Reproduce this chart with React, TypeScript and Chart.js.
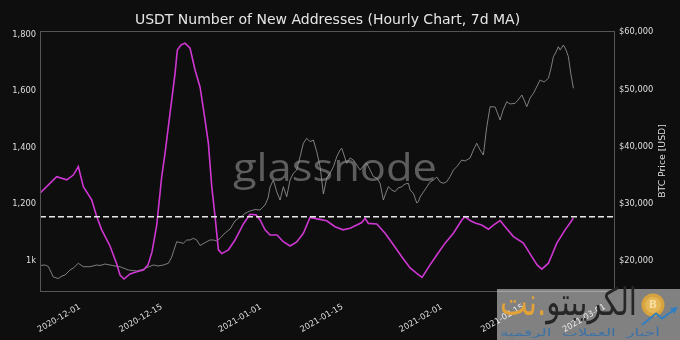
import { useEffect, useRef } from 'react';
import { Chart, registerables } from 'chart.js';

Chart.register(...registerables);

// ---- data (days since 2020-12-01) ----
const usdtDays = [-6.86,-4.0,-2.28,-1.15,-0.29,0.57,2.0,2.86,3.72,5.14,6.29,6.86,7.54,8.57,9.72,10.85,11.66,12.34,13.15,14.0,14.57,15.43,16.29,16.68,17.32,18.0,18.86,19.72,20.57,21.43,22.0,22.58,23.15,23.72,24.3,25.43,26.57,28.0,29.15,30.17,30.86,31.72,32.57,33.77,34.85,36.0,37.15,38.28,39.43,40.85,42.29,43.71,45.09,46.29,47.44,48.29,48.86,49.43,50.87,52.29,53.71,55.15,56.58,57.72,58.63,60.0,61.15,62.57,64.0,65.44,66.0,66.86,67.72,68.87,70.0,70.86,72.0,72.86,74.29,76.0,77.44,78.35,79.15,80.29,81.73,83.15,84.57];
const usdtValues = [1239,1297,1286,1303,1333,1262,1215,1156,1109,1052,988,949,935,953,961,967,985,1031,1126,1297,1380,1522,1663,1746,1764,1770,1752,1675,1615,1498,1416,1262,1156,1038,1025,1038,1073,1130,1164,1162,1144,1109,1091,1091,1067,1052,1066,1097,1153,1147,1141,1120,1109,1115,1126,1135,1150,1132,1130,1097,1056,1014,974,955,941,985,1020,1062,1097,1144,1156,1142,1133,1126,1111,1126,1142,1120,1085,1062,1014,985,970,991,1062,1109,1150];

const btcDays = [-6.86,-6.0,-5.43,-4.58,-3.72,-3.09,-2.57,-1.71,-1.15,-0.29,0.57,1.71,2.86,3.43,4.29,5.14,6.0,6.86,8.28,9.72,10.85,11.43,12.57,13.37,14.28,15.14,15.72,16.0,16.58,17.71,18.29,18.86,19.42,20.01,20.57,21.72,22.29,22.86,23.44,24.0,24.86,25.72,26.57,27.14,27.77,28.29,29.14,30.0,30.86,31.72,32.23,32.57,33.14,33.72,34.29,34.85,35.43,36.0,36.57,37.15,37.72,38.28,38.86,39.43,40.0,40.58,41.15,41.72,42.29,42.86,43.43,44.01,44.57,44.86,45.72,46.29,46.86,47.44,48.0,48.57,49.15,49.72,50.29,50.87,51.43,52.0,52.29,52.86,53.44,54.0,54.52,55.15,55.72,56.28,56.58,57.14,57.72,58.0,58.29,58.86,59.44,60.0,60.58,61.15,61.72,62.28,62.86,63.43,64.0,64.58,65.44,66.0,66.86,67.43,68.0,68.58,69.14,69.72,70.29,71.15,72.0,72.52,73.15,73.72,74.58,75.09,75.73,76.12,76.58,77.15,77.72,78.35,78.86,79.54,80.28,80.74,81.14,81.6,81.99,82.29,82.85,83.31,83.71,84.12,84.57];
const btcValues = [19160,19247,18984,17146,16883,17321,17496,18372,18722,19545,18949,18949,19247,19160,19422,19247,19072,18949,18372,18196,18494,18774,19247,19072,19247,19545,20648,21576,23327,23047,23625,23625,23922,23625,22662,23327,23625,23625,23450,23922,24850,25551,26952,27424,27827,28300,28702,28965,28878,29753,30979,32905,34131,32082,30628,32957,31206,34131,35304,35882,38210,40557,41432,40837,41135,39086,36459,31679,34481,35304,36459,38210,39384,39681,37055,37983,37632,36757,35882,36582,37055,35882,34708,34481,33553,30628,31504,32957,32380,32082,32730,32957,33430,33553,32380,31802,30103,30331,31154,32029,32905,33780,34131,34656,33780,33553,33833,34708,35882,36459,37632,37457,37983,39384,40557,39384,38508,43463,46965,46913,44637,46388,47841,47439,47561,48139,49014,48139,46965,48489,49312,50590,51641,51290,51939,53742,55720,56544,57471,56894,57769,56894,55720,52814,50187];

const xTickDays = [0, 14, 31, 45, 62, 76, 90];
const xTickLabels = ['2020-12-01', '2020-12-15', '2021-01-01', '2021-01-15', '2021-02-01', '2021-02-15', '2021-03-01'];
const leftTicks = [1000, 1200, 1400, 1600, 1800];
const leftTickLabels = ['1k', '1,200', '1,400', '1,600', '1,800'];
const rightTicks = [20000, 30000, 40000, 50000, 60000];
const rightTickLabels = ['$20,000', '$30,000', '$40,000', '$50,000', '$60,000'];
const refLevel = 1155;

const titleText = 'USDT Number of New Addresses (Hourly Chart, 7d MA)';
const rightAxisTitle = 'BTC Price [USD]';
const watermarkText = 'glassnode';
const logoMain = 'الكريبتو';
const logoSuffix = 'نت.';
const logoSub = 'أخبار العملات الرقمية';

const BG = '#0e0e0e';
const MAGENTA = '#cf37d2';
const TXT = '#dedede';
const FONT = 'DejaVu Sans';

export default function App() {
  const ref = useRef<HTMLCanvasElement>(null);

  useEffect(() => {
    const canvas = ref.current;
    if (!canvas) return;

    const nU = Math.min(usdtDays.length, usdtValues.length);
    const usdtPts = usdtDays.slice(0, nU).map((d, i) => ({ x: d, y: usdtValues[i] }));
    const nB = Math.min(btcDays.length, btcValues.length);
    const btcPts = btcDays.slice(0, nB).map((d, i) => ({ x: d, y: btcValues[i] }));

    const deco = {
      id: 'deco',
      beforeDraw(chart: any) {
        const { ctx, width, height } = chart;
        ctx.save();
        ctx.fillStyle = BG;
        ctx.fillRect(0, 0, width, height);
        ctx.restore();
      },
      beforeDatasetsDraw(chart: any) {
        const { ctx } = chart;
        ctx.save();
        ctx.font = '400 38px "Open Sans"';
        const w = ctx.measureText(watermarkText).width;
        ctx.translate(335, 181);
        ctx.scale(204 / w, 1);
        ctx.fillStyle = '#5d5d5d';
        ctx.textAlign = 'center';
        ctx.textBaseline = 'alphabetic';
        ctx.fillText(watermarkText, 0, 0);
        ctx.restore();
      },
      afterDatasetsDraw(chart: any) {
        const { ctx, chartArea, scales } = chart;
        const y = scales.y.getPixelForValue(refLevel);
        ctx.save();
        ctx.strokeStyle = '#e8e8e8';
        ctx.lineWidth = 1.5;
        ctx.setLineDash([6, 3]);
        ctx.beginPath();
        ctx.moveTo(chartArea.left, y);
        ctx.lineTo(chartArea.right, y);
        ctx.stroke();
        ctx.setLineDash([]);
        ctx.strokeStyle = '#555555';
        ctx.lineWidth = 1;
        ctx.strokeRect(Math.round(chartArea.left) + 0.5, Math.round(chartArea.top) + 0.5,
          Math.round(chartArea.right - chartArea.left) - 1, Math.round(chartArea.bottom - chartArea.top) - 1);
        ctx.restore();
      },
      afterDraw(chart: any) {
        const { ctx, chartArea } = chart;
        ctx.save();
        // title
        ctx.fillStyle = '#e6e6e6';
        ctx.font = `14px "${FONT}"`;
        ctx.textAlign = 'center';
        ctx.textBaseline = 'alphabetic';
        ctx.fillText(titleText, (chartArea.left + chartArea.right) / 2, 24);
        // right axis title
        ctx.save();
        ctx.translate(663, 161);
        ctx.rotate(-Math.PI / 2);
        ctx.font = `9.3px "${FONT}"`;
        ctx.fillStyle = TXT;
        ctx.textAlign = 'center';
        ctx.textBaseline = 'middle';
        ctx.fillText(rightAxisTitle, 0, 0);
        ctx.restore();

        // logo watermark
        ctx.fillStyle = 'rgba(255,255,255,0.48)';
        ctx.fillRect(497, 289, 183, 51);
        // coin
        ctx.beginPath();
        ctx.arc(653, 305, 11.5, 0, Math.PI * 2);
        ctx.fillStyle = '#d7a33f';
        ctx.fill();
        ctx.beginPath();
        ctx.arc(653, 305, 8, 0, Math.PI * 2);
        ctx.fillStyle = '#e4b655';
        ctx.fill();
        ctx.fillStyle = '#f6dd9f';
        ctx.font = `bold 11px "${FONT}"`;
        ctx.textAlign = 'center';
        ctx.textBaseline = 'middle';
        ctx.fillText('B', 653, 305.5);
        // arrow
        ctx.strokeStyle = '#2f7fc2';
        ctx.lineWidth = 2;
        ctx.beginPath();
        ctx.moveTo(642, 325);
        ctx.lineTo(656, 313.5);
        ctx.lineTo(662, 318.5);
        ctx.lineTo(673, 310.5);
        ctx.stroke();
        ctx.beginPath();
        ctx.moveTo(678, 307);
        ctx.lineTo(670, 308);
        ctx.lineTo(674, 314);
        ctx.closePath();
        ctx.fillStyle = '#2f7fc2';
        ctx.fill();
        // arabic name
        ctx.font = `38px "${FONT}"`;
        ctx.textBaseline = 'alphabetic';
        const wm = ctx.measureText(logoMain).width;
        const ws = ctx.measureText(logoSuffix).width;
        const sc = 137 / (wm + ws);
        ctx.save();
        ctx.translate(500, 315);
        ctx.scale(sc, 1);
        ctx.textAlign = 'left';
        ctx.fillStyle = '#e3a238';
        ctx.fillText(logoSuffix, 0, 0);
        ctx.fillStyle = '#262626';
        ctx.fillText(logoMain, ws, 0);
        ctx.restore();
        // subtitle
        ctx.font = `10px "${FONT}"`;
        (ctx as any).letterSpacing = '3px';
        const wsub = ctx.measureText(logoSub).width;
        ctx.save();
        ctx.translate(500, 336);
        ctx.scale(160 / wsub, 1);
        ctx.textAlign = 'left';
        ctx.fillStyle = '#3d72a6';
        ctx.fillText(logoSub, 0, 0);
        ctx.restore();
        (ctx as any).letterSpacing = '0px';
        ctx.restore();
      },
    };

    const tickFont = { family: FONT, size: 8.3 };

    const chart = new Chart(canvas, {
      type: 'line',
      data: {
        datasets: [
          { label: 'USDT new addresses', data: usdtPts, yAxisID: 'y', borderColor: MAGENTA, borderWidth: 1.6, pointRadius: 0, tension: 0, order: 0, fill: false },
          { label: 'BTC price', data: btcPts, yAxisID: 'y1', borderColor: '#9a9a9a', borderWidth: 0.8, pointRadius: 0, tension: 0, order: 1, fill: false },
        ],
      },
      options: {
        responsive: false,
        animation: false,
        devicePixelRatio: 1,
        layout: { padding: { top: 31, left: 0, right: 0, bottom: 0 } },
        plugins: { legend: { display: false }, title: { display: false }, tooltip: { enabled: false } },
        scales: {
          x: {
            type: 'linear',
            min: -6.86,
            max: 91.7,
            grid: { display: false, drawTicks: false },
            border: { display: false },
            ticks: {
              autoSkip: false,
              maxRotation: 30,
              minRotation: 30,
              padding: 10,
              color: TXT,
              font: tickFont,
              callback: (_v: any, i: number) => xTickLabels[i],
            },
            afterBuildTicks: (s: any) => { s.ticks = xTickDays.map((v) => ({ value: v })); },
            afterFit: (s: any) => { s.height = 48; },
          },
          y: {
            type: 'linear',
            position: 'left',
            min: 889,
            max: 1813,
            grid: { display: false, drawTicks: false },
            border: { display: false },
            ticks: { padding: 4, color: TXT, font: tickFont, callback: (_v: any, i: number) => leftTickLabels[i] },
            afterBuildTicks: (s: any) => { s.ticks = leftTicks.map((v) => ({ value: v })); },
            afterFit: (s: any) => { s.width = 40; },
          },
          y1: {
            type: 'linear',
            position: 'right',
            min: 14520,
            max: 60220,
            grid: { display: false, drawTicks: false },
            border: { display: false },
            ticks: { padding: 4, color: TXT, font: tickFont, callback: (_v: any, i: number) => rightTickLabels[i] },
            afterBuildTicks: (s: any) => { s.ticks = rightTicks.map((v) => ({ value: v })); },
            afterFit: (s: any) => { s.width = 65; },
          },
        },
      },
      plugins: [deco],
    } as any);

    return () => chart.destroy();
  }, []);

  return (
    <div style={{ position: 'absolute', left: 0, top: 0, width: 680, height: 340, background: BG }}>
      <canvas ref={ref} width={680} height={340} style={{ display: 'block', width: 680, height: 340 }} />
    </div>
  );
}
